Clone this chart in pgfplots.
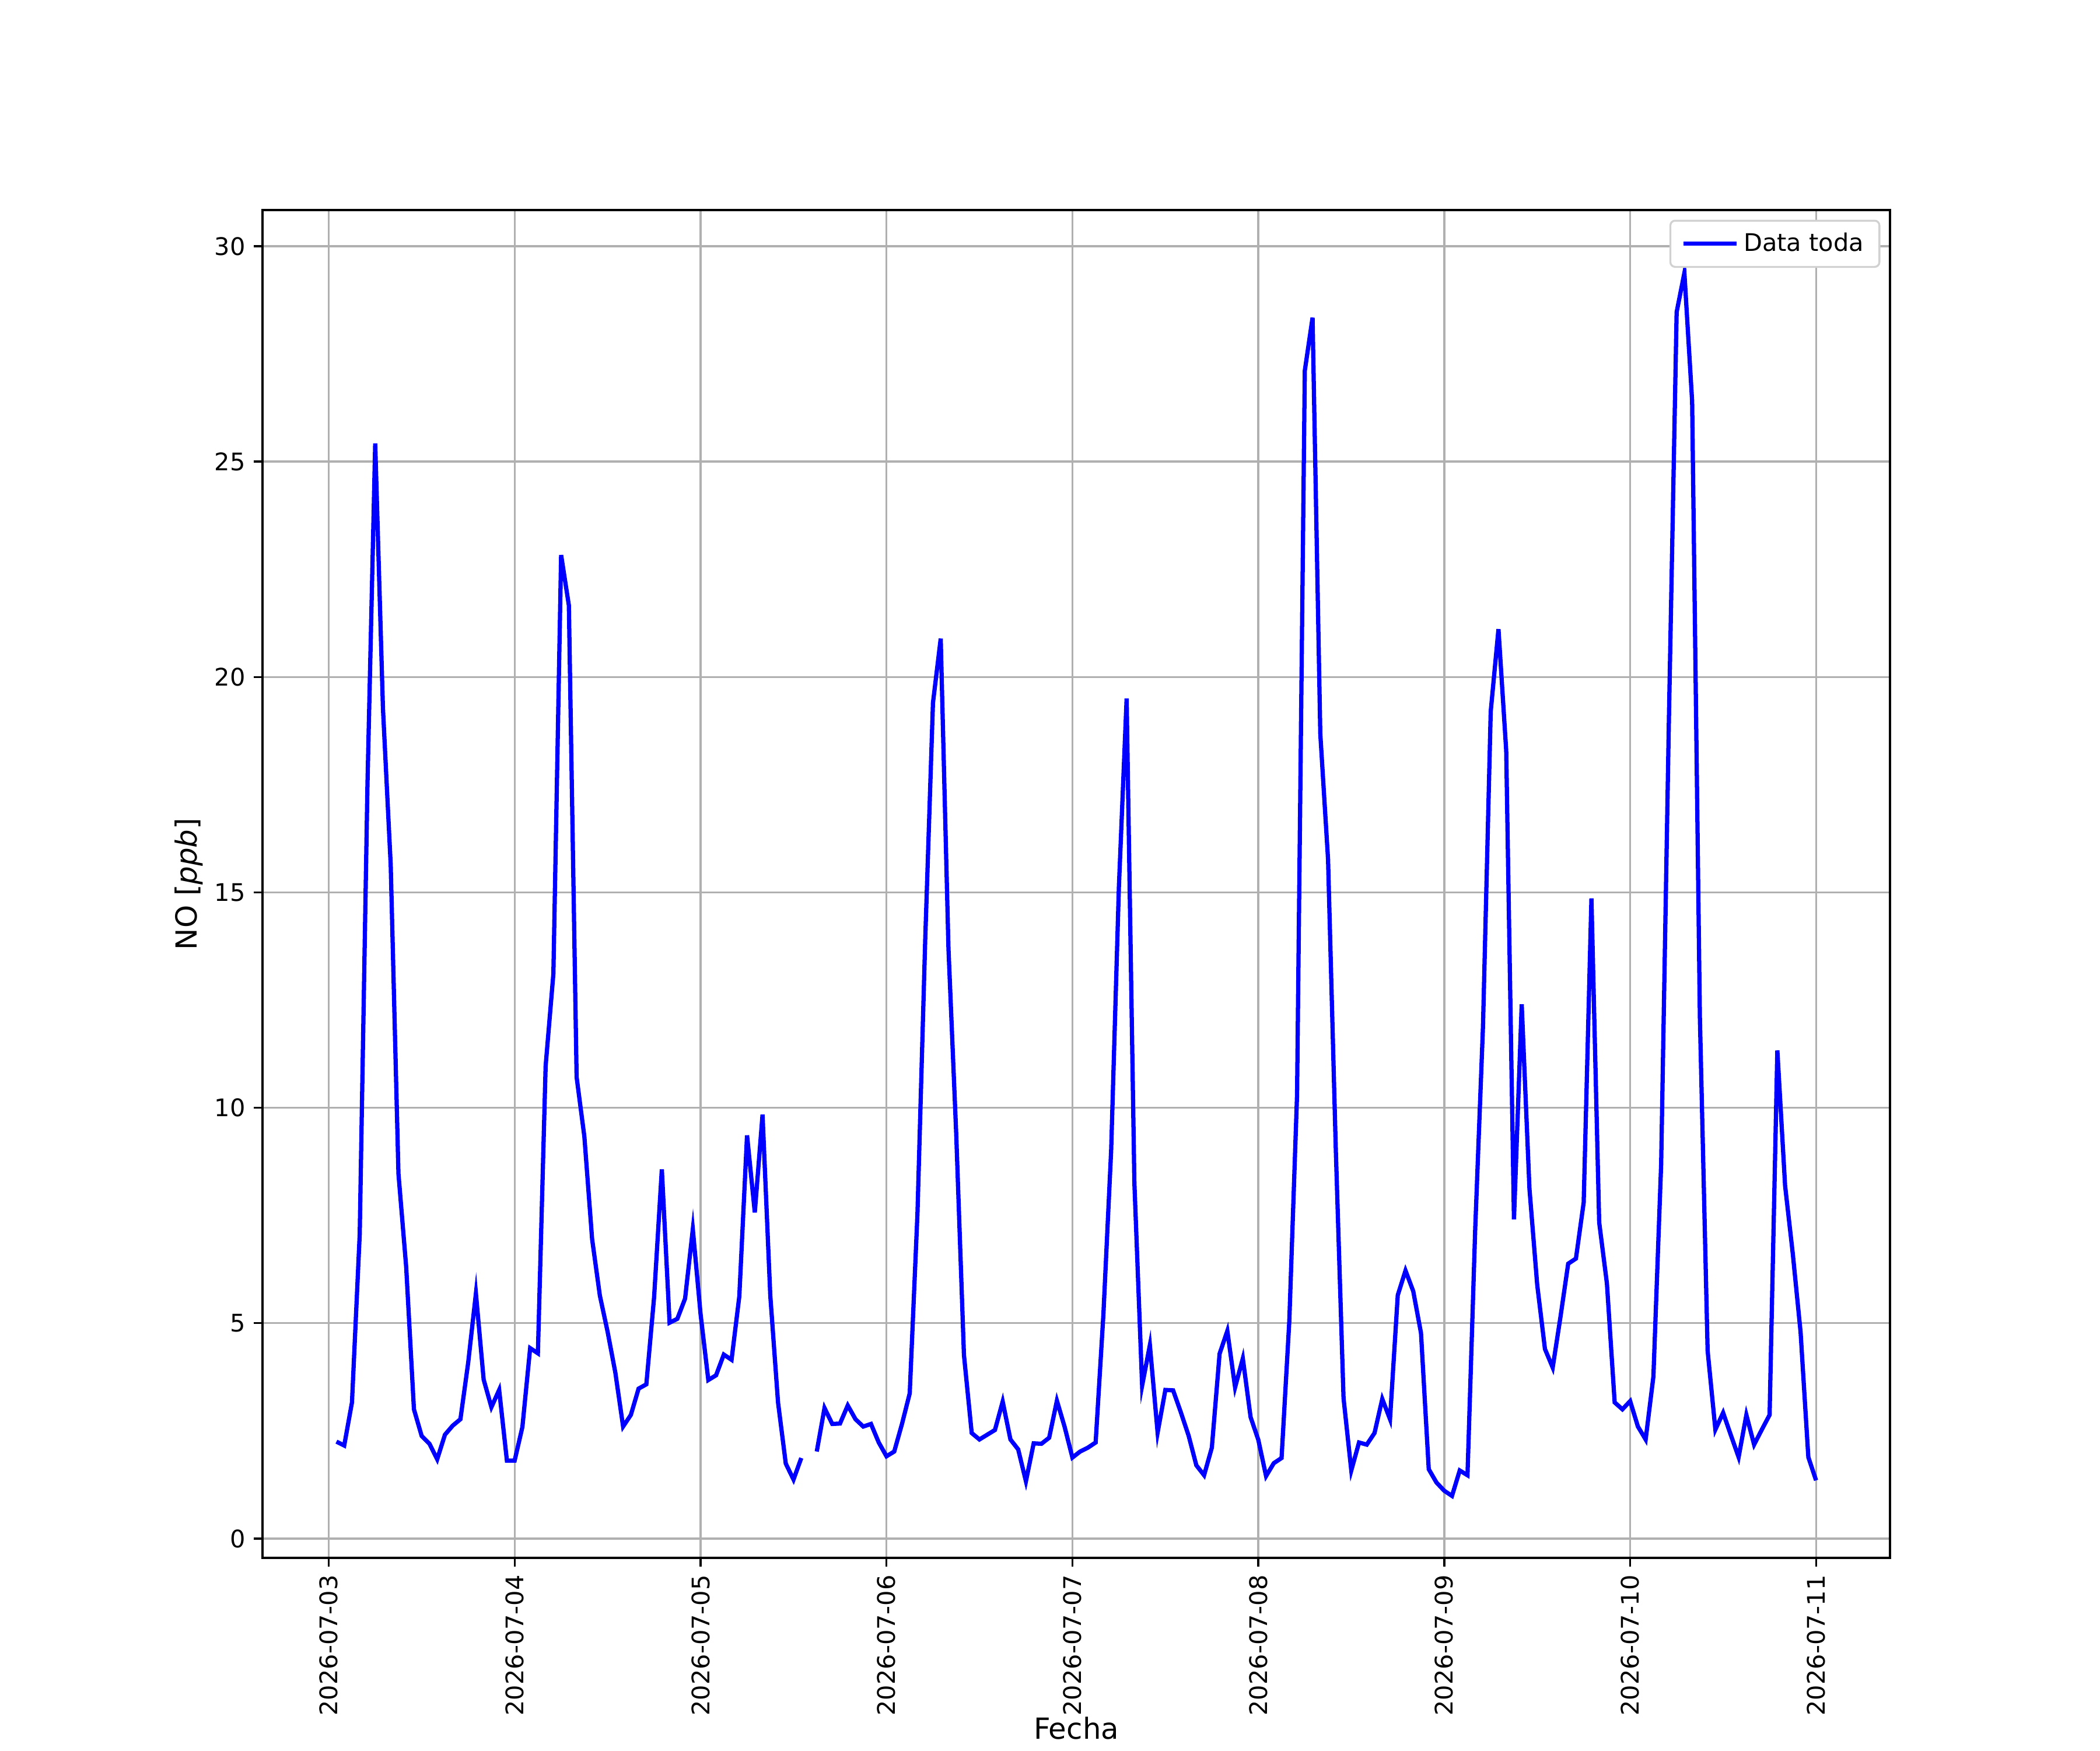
\documentclass[border=0pt]{standalone}
\usepackage{fontspec}
\setmainfont{DejaVu Sans}
\usepackage{pgfplots}
\pgfplotsset{compat=1.18}
\begin{document}
\begin{tikzpicture}
\path[use as bounding box] (-108.4pt,-79.5pt) rectangle (758.8pt,643.2pt);
\begin{axis}[
  at={(0pt,0pt)}, anchor=south west,
  scale only axis, width=672.1pt, height=556.5pt,
  xmin=-8.55, xmax=201.55, ymin=-0.45, ymax=30.84,
  xtick={0,24,48,72,96,120,144,168,192},
  xticklabels={2026-07-03,2026-07-04,2026-07-05,2026-07-06,2026-07-07,2026-07-08,2026-07-09,2026-07-10,2026-07-11},
  ytick={0,5,10,15,20,25,30},
  grid=major,
  grid style={color=black!31, line width=0.8pt},
  axis line style={line width=0.8pt},
  tick align=outside, tick pos=left,
  major tick length=3.5pt,
  every tick/.style={black, line width=0.8pt},
  /pgf/number format/assume math mode=true,
  ticklabel style={font=\fontsize{10}{12}\selectfont},
  xticklabel style={rotate=90, anchor=east},
  xlabel={Fecha}, ylabel={NO [\textit{ppb}]},
  label style={font=\fontsize{12}{14}\selectfont},
  xlabel style={yshift=4pt, inner ysep=1pt},
  ylabel style={yshift=-2pt},
  unbounded coords=jump,
  legend style={at={(1,1)}, anchor=north east, xshift=-4pt, yshift=-4pt,
    draw=black!18, rounded corners=2pt, line width=0.8pt,
    font=\fontsize{10}{12}\selectfont, inner xsep=4.5pt, inner ysep=3pt},
  legend cell align=left,
  legend image code/.code={\draw[#1, line width=1.75pt] (-2pt,0pt) -- (20pt,0pt);},
]
\addplot[blue, line width=1.75pt] table[x=h, y=v] {
h v
1 2.25
2 2.16
3 3.16
4 7.06
5 17.5
6 25.42
7 19.27
8 15.64
9 8.47
10 6.3
11 3.0
12 2.38
13 2.2
14 1.84
15 2.41
16 2.62
17 2.77
18 4.08
19 5.69
20 3.69
21 3.05
22 3.45
23 1.81
24 1.81
25 2.59
26 4.42
27 4.3
28 10.97
29 13.11
30 22.83
31 21.66
32 10.71
33 9.33
34 6.95
35 5.64
36 4.8
37 3.85
38 2.6
39 2.87
40 3.48
41 3.58
42 5.6
43 8.57
44 5.01
45 5.1
46 5.57
47 7.18
48 5.21
49 3.68
50 3.79
51 4.27
52 4.15
53 5.62
54 9.36
55 7.57
56 9.84
57 5.64
58 3.16
59 1.74
60 1.37
61 1.87
62 nan
63 2.02
64 3.03
65 2.66
66 2.67
67 3.09
68 2.77
69 2.6
70 2.66
71 2.23
72 1.91
73 2.02
74 2.66
75 3.37
76 7.55
77 13.9
78 19.4
79 20.89
80 13.7
81 9.4
82 4.26
83 2.45
84 2.3
85 2.41
86 2.52
87 3.18
88 2.3
89 2.07
90 1.33
91 2.21
92 2.2
93 2.34
94 3.2
95 2.59
96 1.88
97 2.02
98 2.11
99 2.23
100 5.2
101 9.0
102 15.12
103 19.5
104 8.26
105 3.55
106 4.49
107 2.46
108 3.45
109 3.44
110 2.93
111 2.39
112 1.70
113 1.47
114 2.11
115 4.29
116 4.82
117 3.51
118 4.18
119 2.82
120 2.29
121 1.45
122 1.75
123 1.87
124 5.05
125 10.3
126 27.11
127 28.34
128 18.68
129 15.77
130 9.04
131 3.26
132 1.58
133 2.23
134 2.18
135 2.45
136 3.24
137 2.77
138 5.65
139 6.22
140 5.74
141 4.77
142 1.61
143 1.30
144 1.11
145 0.99
146 1.58
147 1.47
148 7.2
149 11.88
150 19.2
151 21.11
152 18.29
153 7.41
154 12.4
155 8.12
156 5.89
157 4.40
158 3.97
159 5.14
160 6.38
161 6.5
162 7.8
163 14.86
164 7.34
165 5.92
166 3.16
167 3.0
168 3.19
169 2.6
170 2.3
171 3.76
172 8.69
173 19.0
174 28.47
175 29.38
176 26.4
177 12.1
178 4.36
179 2.53
180 2.92
181 2.4
182 1.89
183 2.87
184 2.18
185 2.53
186 2.87
187 11.33
188 8.19
189 6.6
190 4.79
191 1.89
192 1.35
};
\addlegendentry{Data toda}
\end{axis}
\end{tikzpicture}
\end{document}
